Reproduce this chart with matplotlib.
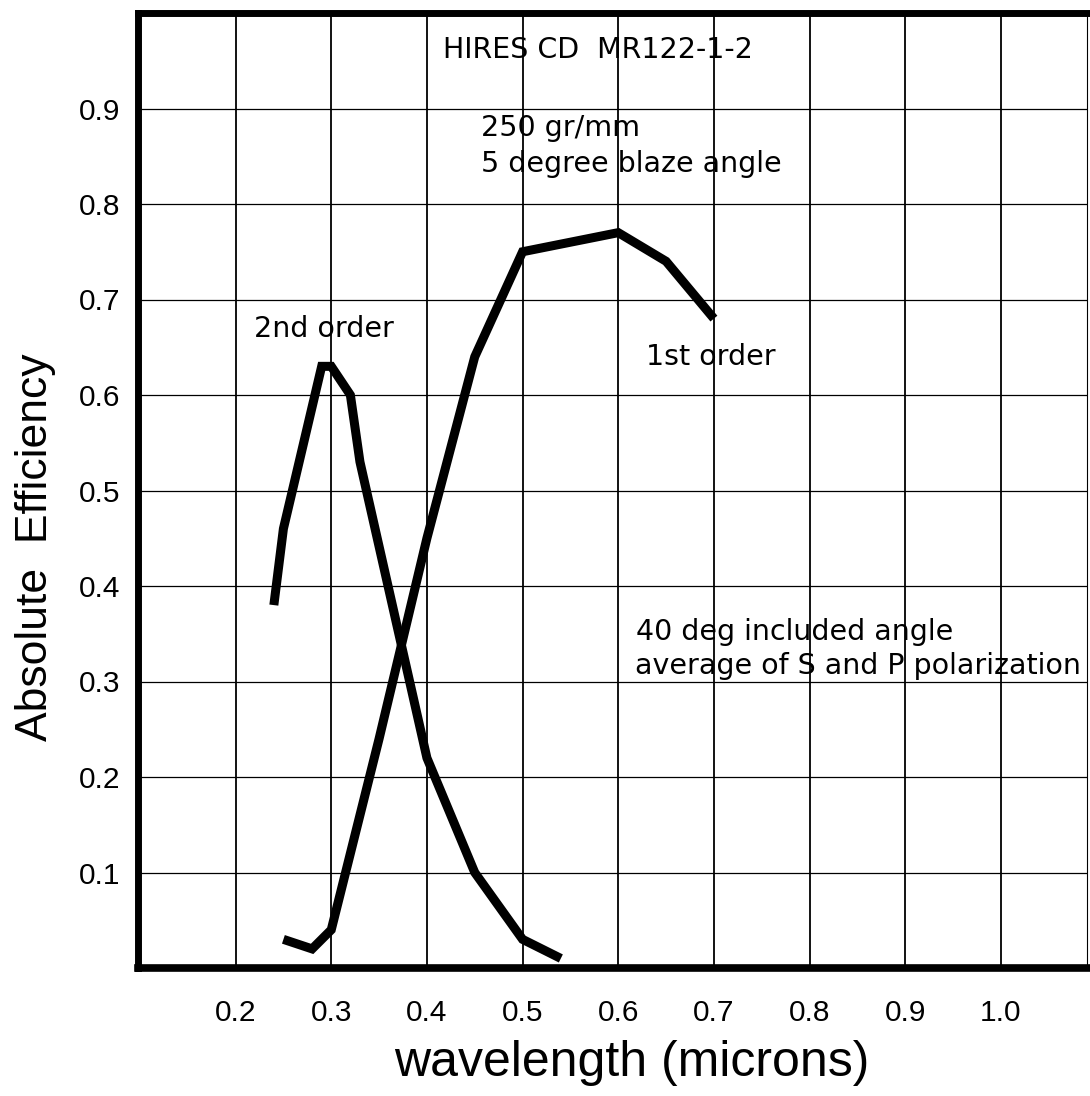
import matplotlib.pyplot as plt

# Grating efficiency curves
wl_1st = [0.25, 0.28, 0.30, 0.35, 0.40, 0.45, 0.50, 0.60, 0.65, 0.70]
eff_1st = [0.03, 0.02, 0.04, 0.24, 0.45, 0.64, 0.75, 0.77, 0.74, 0.68]

wl_2nd = [0.24, 0.25, 0.29, 0.30, 0.32, 0.33, 0.40, 0.45, 0.50, 0.54]
eff_2nd = [0.38, 0.46, 0.63, 0.63, 0.60, 0.53, 0.22, 0.10, 0.03, 0.01]

x_ticks = [0.2, 0.3, 0.4, 0.5, 0.6, 0.7, 0.8, 0.9, 1.0]
x_labels = ["0.2", "0.3", "0.4", "0.5", "0.6", "0.7", "0.8", "0.9", "1.0"]
y_ticks = [0.1, 0.2, 0.3, 0.4, 0.5, 0.6, 0.7, 0.8, 0.9]
y_labels = ["0.1", "0.2", "0.3", "0.4", "0.5", "0.6", "0.7", "0.8", "0.9"]

plt.rcParams['font.family'] = ['Liberation Sans', 'DejaVu Sans']
note_font = 'DejaVu Sans'
note_size = 20.5

fig = plt.figure(figsize=(10.9, 10.96), dpi=100)
ax = fig.add_axes([138 / 1090, 128 / 1096, 949 / 1090, 955 / 1096])

ax.plot(wl_1st, eff_1st, color='black', lw=6.5, solid_capstyle='butt', solid_joinstyle='miter')
ax.plot(wl_2nd, eff_2nd, color='black', lw=6.5, solid_capstyle='butt', solid_joinstyle='miter')

ax.set_xlim(0.098, 1.09)
ax.set_ylim(0, 1.0)
ax.set_xticks(x_ticks, x_labels, fontsize=21.5)
ax.set_yticks(y_ticks, y_labels, fontsize=21.5)
ax.tick_params(length=0)
ax.tick_params(axis='x', pad=22)
ax.tick_params(axis='y', pad=13)

ax.xaxis.grid(True, color='black', lw=1.3)
ax.yaxis.grid(True, color='black', lw=0.9)
ax.set_axisbelow(True)

ax.spines['left'].set_linewidth(5)
ax.spines['top'].set_linewidth(5)
ax.spines['bottom'].set_linewidth(5.5)
ax.spines['right'].set_linewidth(0.8)

ax.set_xlabel('wavelength (microns)', fontsize=36)
ax.set_ylabel('Absolute  Efficiency', fontsize=32)
ax.xaxis.set_label_coords(0.5205, -0.1)
ax.xaxis.label.set_va('center')
ax.yaxis.set_label_coords(-0.1085, 0.441)
ax.yaxis.label.set_va('center')

ax.text(0.417, 0.953, 'HIRES CD  MR122-1-2', fontsize=note_size, family=note_font)
ax.text(0.457, 0.871, '250 gr/mm', fontsize=note_size, family=note_font)
ax.text(0.457, 0.833, '5 degree blaze angle', fontsize=note_size, family=note_font)
ax.text(0.219, 0.661, '2nd order', fontsize=note_size, family=note_font)
ax.text(0.629, 0.631, '1st order', fontsize=note_size, family=note_font)
ax.text(0.619, 0.343, '40 deg included angle', fontsize=note_size, family=note_font)
ax.text(0.617, 0.308, 'average of S and P polarization', fontsize=note_size, family=note_font)

fig.savefig('out.png', dpi=100)
